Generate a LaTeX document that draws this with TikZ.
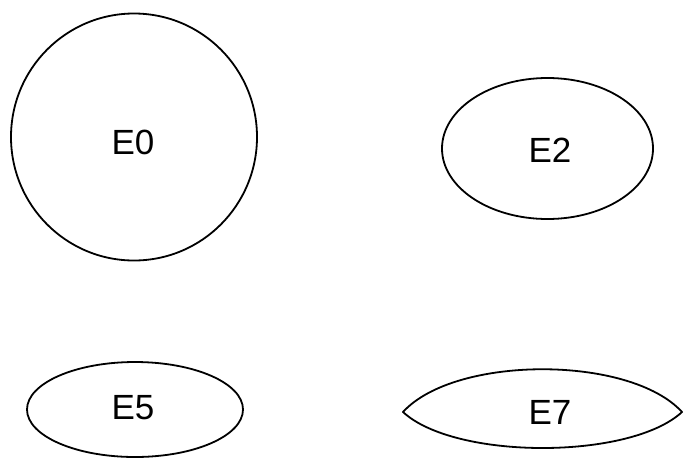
\documentclass[tikz,border=0pt]{standalone}
\usepackage{fontspec}
\setmainfont{Liberation Sans}
\usetikzlibrary{shapes.geometric}
\tikzset{
  shapeline/.style={draw=black, line width=1.8pt},
  lbl/.style={font=\fontsize{35}{35}\selectfont, inner sep=0pt},
  oval/.style={shapeline, ellipse, inner sep=0pt}
}
\begin{document}
\begin{tikzpicture}[x=1pt,y=-1pt]
\useasboundingbox (0,0) rectangle (684,461);
\node[oval, minimum width=246pt, minimum height=247pt] (e0) at (134,137) {};
\node[lbl] (t0) at (133,142) {E0};
\node[oval, minimum width=211pt, minimum height=141pt] (e2) at (547.5,148.5) {};
\node[lbl] (t2) at (550,150) {E2};
\node[oval, minimum width=216pt, minimum height=95pt] (e5) at (135,409.5) {};
\node[lbl] (t5) at (133,408) {E5};
\coordinate (l7) at (403,412);
\coordinate (r7) at (682,412);
\draw[shapeline, line join=round] (l7) .. controls (455,355) and (630,355) .. (r7)
  .. controls (630,460) and (455,460) .. (l7) -- cycle;
\node[lbl] (t7) at (550,412) {E7};
\end{tikzpicture}
\end{document}
